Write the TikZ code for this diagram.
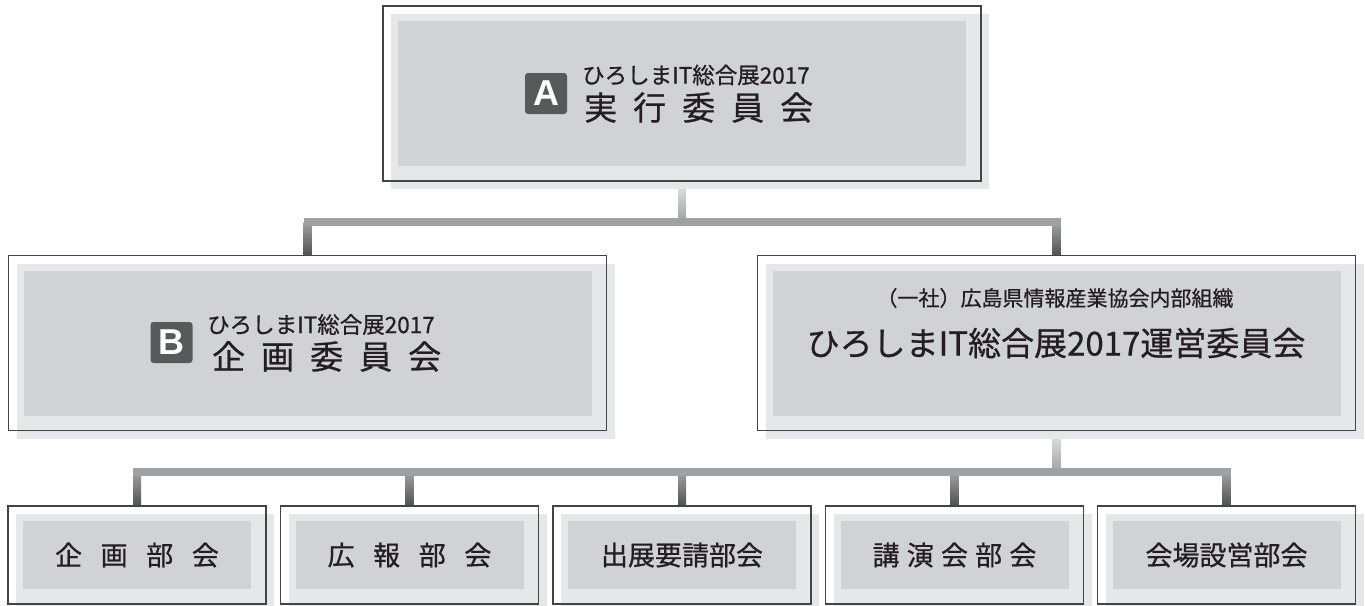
\documentclass[tikz,border=0pt]{standalone}
\usepackage{fontspec}
\setmainfont{Noto Sans CJK JP}[FakeBold=0.7]
\newfontfamily\badgefont{Liberation Sans}
\usepackage{xcolor}
\definecolor{cframe}{HTML}{444446}
\definecolor{clight}{HTML}{E6E7E8}
\definecolor{cinner}{HTML}{D1D2D4}
\definecolor{cbadge}{HTML}{58595B}
\definecolor{cbar}  {HTML}{A0A1A4}
\definecolor{cdark} {HTML}{505153}
\definecolor{ctext} {HTML}{231F20}
\pgfdeclarelayer{background}
\pgfsetlayers{background,main}

\begin{document}
\begin{tikzpicture}[
  x=1pt, y=-1pt,
  frame/.style   = {rectangle, draw=cframe, line width=1.2pt,
                    inner sep=0pt, outer sep=0pt,
                    preaction={fill=clight, transform canvas={shift={(8pt,-8pt)}}},
                    path picture={\fill[cinner]
                      ([shift={(15pt,-15pt)}]path picture bounding box.north west) rectangle
                      ([shift={(-15pt,15pt)}]path picture bounding box.south east);}},
  topbox/.style  = {frame, minimum width=598, minimum height=175},
  unitbox/.style = {frame, minimum width=258, minimum height=98,
                    text=ctext, font=\fontsize{27}{30}\selectfont},
  spaced/.style  = {execute at begin node={\spaceskip=#1pt\relax}},
  badge/.style   = {rectangle, rounded corners=3pt, fill=cbadge, text=white,
                    minimum width=42, minimum height=41, inner sep=0pt,
                    font=\badgefont\bfseries\fontsize{36}{36}\selectfont},
  subtitle/.style = {inner sep=0pt, text=ctext, font=\fontsize{22.5}{25}\selectfont},
  title/.style    = {inner sep=0pt, text=ctext, font=\fontsize{33}{36}\selectfont},
  stemup/.style   = {top color=clight, bottom color=cbar},
  stemdown/.style = {top color=cbar, bottom color=cdark}
]
\useasboundingbox (0,0) rectangle (1365,605);

%% ── Boxes ────────────────────────────────────────────────────────────────
\node[topbox] (exec) at (682,    93.5) {};
\node[topbox] (plan) at (307.5,  343)  {};
\node[topbox] (ops)  at (1056.5, 343)  {};
\node[unitbox, spaced=18.6] (kikaku)  at (137,    555) {企 画 部 会};
\node[unitbox, spaced=18.6] (koho)    at (409.5,  555) {広 報 部 会};
\node[unitbox]              (shutten) at (682,    555) {出展要請部会};
\node[unitbox, spaced=7.2]  (koen)    at (954.5,  555) {講 演 会 部 会};
\node[unitbox]              (kaijo)   at (1226.5, 555) {会場設営部会};

%% ── Labels ───────────────────────────────────────────────────────────────
\node[badge] (ba) at (546, 93.5) {A};
\node[subtitle, anchor=west] (esub) at (582, 75) {ひろしまIT総合展2017};
\node[title, spaced=16, anchor=west] (etitle) at (584, 107.5) {実 行 委 員 会};

\node[badge] (bb) at (171.5, 342.5) {B};
\node[subtitle, anchor=west] (psub) at (207, 324.5) {ひろしまIT総合展2017};
\node[title, spaced=16, anchor=west] (ptitle) at (212, 356.5) {企 画 委 員 会};

\node[subtitle, font=\fontsize{21}{24}\selectfont] (osub) at (1055, 298) {（一社）広島県情報産業協会内部組織};
\node[title] (otitle) at (1056, 343) {ひろしまIT総合展2017運営委員会};

%% ── Connectors ───────────────────────────────────────────────────────────
\begin{pgfonlayer}{background}
\path (exec.south) ++(0,41)   coordinate (bus1);
\path (ops.south)  ++(0,41.5) coordinate (bus2);

% stems from the upper boxes
\shade[stemup] ([xshift=-4pt]exec.south) rectangle ([xshift=4pt]bus1);
\shade[stemup] ([xshift=-4pt]ops.south)  rectangle ([xshift=4pt]bus2);

% drops into the lower boxes
\foreach \n in {plan, ops}
  \shade[stemdown] ([xshift=-4pt]bus1 -| \n.north) rectangle ([xshift=4pt]\n.north);
\foreach \n in {kikaku, koho, shutten, koen, kaijo}
  \shade[stemdown] ([xshift=-4pt]bus2 -| \n.north) rectangle ([xshift=4pt]\n.north);

% horizontal bars
\fill[cbar] ([shift={(-4pt,4pt)}]bus1 -| plan.north)   rectangle ([shift={(4pt,-4pt)}]bus1 -| ops.north);
\fill[cbar] ([shift={(-4pt,4pt)}]bus2 -| kikaku.north) rectangle ([shift={(4pt,-4pt)}]bus2 -| kaijo.north);
\end{pgfonlayer}

\end{tikzpicture}
\end{document}
